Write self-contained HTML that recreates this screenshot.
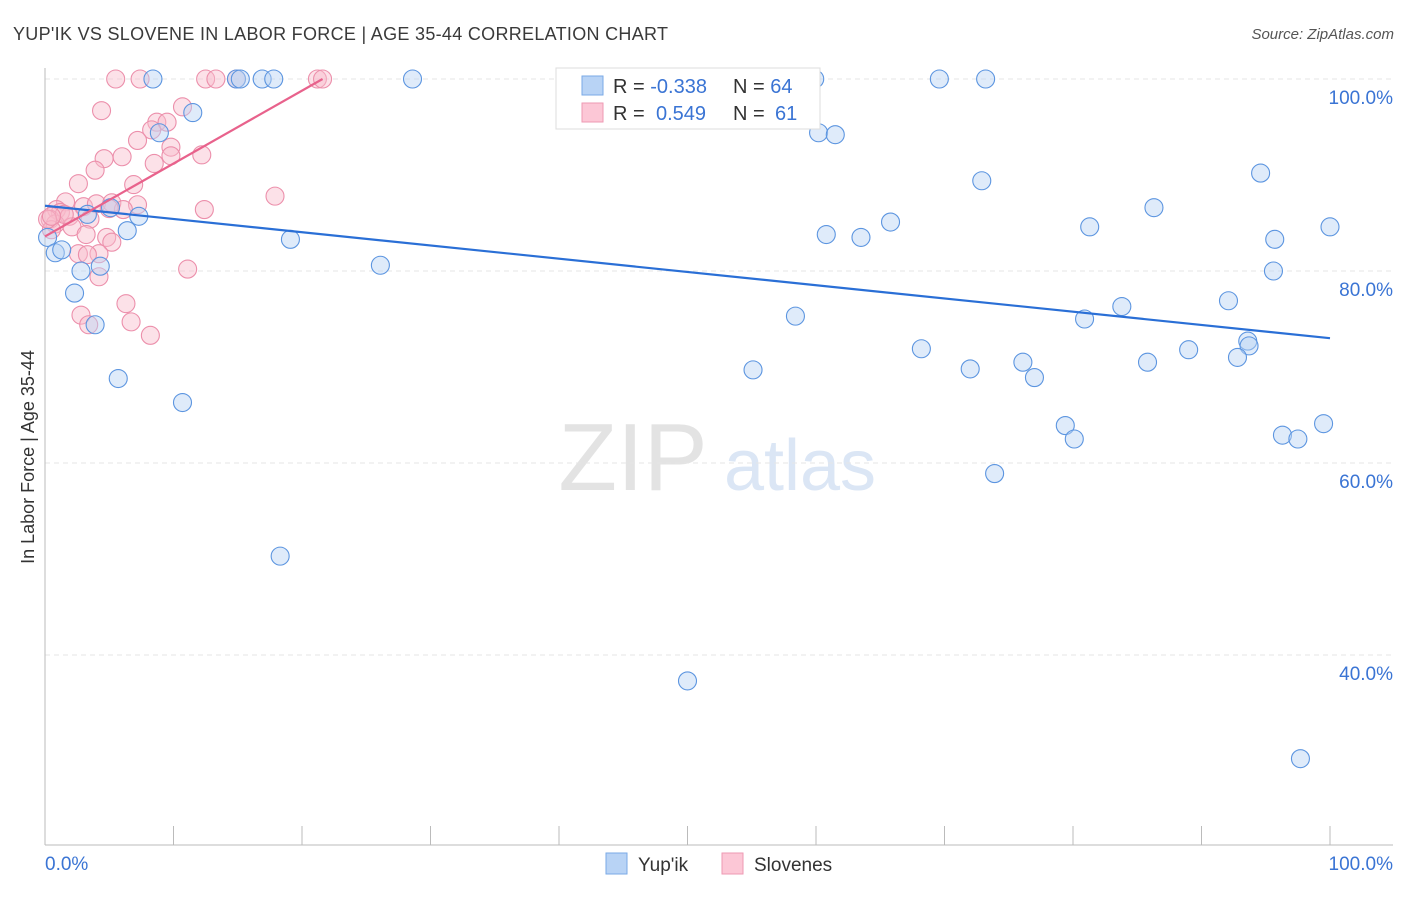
<!DOCTYPE html>
<html><head><meta charset="utf-8">
<style>
body{margin:0;background:#fff;font-family:"Liberation Sans",sans-serif;}
svg text{font-family:"Liberation Sans",sans-serif;}
</style></head>
<body>
<svg id="chart" width="1406" height="892" viewBox="0 0 1406 892" xmlns="http://www.w3.org/2000/svg">
<text x="13" y="40" font-size="18" fill="#3a3a3a" textLength="655">YUP'IK VS SLOVENE IN LABOR FORCE | AGE 35-44 CORRELATION CHART</text>
<text x="1394" y="39" font-size="15" fill="#555" text-anchor="end" font-style="italic">Source: ZipAtlas.com</text>
<g>
<text x="633" y="490" font-size="96" fill="#e3e3e3" text-anchor="middle" font-family="Liberation Serif">ZIP</text>
<text x="800" y="490" font-size="72" fill="#dbe6f5" text-anchor="middle">atlas</text>
</g>
<g id="grid"></g>
<g id="axes"></g>
<g id="pts"></g>
<g id="lines"></g>
<text transform="translate(34,457) rotate(-90)" font-size="18" fill="#333" text-anchor="middle">In Labor Force | Age 35-44</text>
<g>
<rect x="556" y="68" width="264" height="61" fill="#fff" stroke="#ddd"/>
<rect x="582" y="76" width="21" height="19" fill="#b8d3f5" stroke="#7aaae6"/>
<rect x="582" y="103" width="21" height="19" fill="#fcc7d6" stroke="#ee9ab3"/>
<text x="613" y="93" font-size="20" fill="#333">R = <tspan fill="#3a74d4">-0.338</tspan></text>
<text x="733" y="93" font-size="20" fill="#333">N = <tspan fill="#3a74d4">64</tspan></text>
<text x="613" y="120" font-size="20" fill="#333">R = <tspan fill="#3a74d4" x="656">0.549</tspan></text>
<text x="733" y="120" font-size="20" fill="#333">N = <tspan fill="#3a74d4" x="775">61</tspan></text>
</g>
<g>
<rect x="606" y="853" width="21" height="21" fill="#b8d3f5" stroke="#7aaae6"/>
<text x="638" y="871" font-size="19" fill="#333">Yup'ik</text>
<rect x="722" y="853" width="21" height="21" fill="#fcc7d6" stroke="#ee9ab3"/>
<text x="754" y="871" font-size="19" fill="#333">Slovenes</text>
</g>
</svg>
<script>
const yupikX=[8.4,14.9,15.2,16.9,17.8,28.6,41.6,59.9,69.6,73.2,11.5,8.9,60.2,61.5,72.9,94.6,86.3,100,81.3,65.8,60.8,63.5,95.7,5.1,7.3,3.3,0.2,0.8,1.3,6.4,19.1,4.3,2.8,26.1,2.3,3.9,95.6,92.1,83.8,58.4,80.9,5.7,10.7,68.2,89.0,93.6,93.7,92.8,85.8,76.1,77.0,72.0,55.1,79.4,80.1,96.3,97.5,99.5,73.9,18.3,50.0,97.7];
const yupikY=[100,100,100,100,100,100,100,100,100,100,96.5,94.4,94.4,94.2,89.4,90.2,86.6,84.6,84.6,85.1,83.8,83.5,83.3,86.6,85.7,85.9,83.5,81.9,82.2,84.2,83.3,80.5,80.0,80.6,77.7,74.4,80.0,76.9,76.3,75.3,75.0,68.8,66.3,71.9,71.8,72.7,72.2,71.0,70.5,70.5,68.9,69.8,69.7,63.9,62.5,62.9,62.5,64.1,58.9,50.3,37.3,29.2];
const sloX=[5.5,7.4,12.5,13.3,14.9,21.2,21.6,4.4,10.7,8.7,9.5,8.3,7.2,9.8,9.8,12.2,6.0,4.6,3.9,8.5,2.6,6.9,17.9,12.4,1.6,3.0,4.0,5.2,7.2,6.1,5.0,0.9,1.2,1.9,0.4,0.8,3.5,2.1,3.2,0.5,4.8,5.2,2.6,4.2,3.3,11.1,4.2,6.3,2.8,6.7,3.4,8.2,1.5,0.2,0.5];
const sloY=[100,100,100,100,100,100,100,96.7,97.1,95.5,95.5,94.7,93.6,92.9,92.0,92.1,91.9,91.7,90.5,91.2,89.1,89.0,87.8,86.4,87.2,86.7,87.0,87.1,86.9,86.4,86.5,86.4,86.1,85.7,85.4,84.9,85.4,84.6,83.8,84.3,83.5,83.0,81.8,81.8,81.7,80.2,79.4,76.6,75.4,74.7,74.4,73.3,85.9,85.4,85.7];
const xTicks=[0,10,20,30,40,50,60,70,80,90,100];
const yTicks=[100,80,60,40];
const yLabels=["100.0%","80.0%","60.0%","40.0%"];
const xLabels=["0.0%","100.0%"];
const blueLine=[[0,86.8],[100,73.0]];
const pinkLine=[[0,83.6],[21.6,100]];
const X=v=>45+v*12.85, Y=v=>79+(100-v)*9.6;
const NS="http://www.w3.org/2000/svg";
function mk(t,a,p){const e=document.createElementNS(NS,t);for(const k in a)e.setAttribute(k,a[k]);p.appendChild(e);return e;}
const grid=document.getElementById('grid'),axes=document.getElementById('axes'),pts=document.getElementById('pts'),lines=document.getElementById('lines');
yTicks.forEach((v,i)=>{
 const g=mk('line',{x1:45,x2:1393,y1:Y(v),y2:Y(v),stroke:'#e6e6e6','stroke-dasharray':'5,4'},grid);
 
 
 const t=mk('text',{x:1393,y:Y(v)+25,'font-size':19,fill:'#3a74d4','text-anchor':'end'},axes);
 t.textContent=yLabels[i];
 
 
});
const ax=mk('line',{x1:45,x2:45,y1:68,y2:845,stroke:'#bbb'},axes);


const bx=mk('line',{x1:45,x2:1393,y1:845,y2:845,stroke:'#bbb'},axes);


xTicks.forEach(v=>{
 const t=mk('line',{x1:X(v),x2:X(v),y1:826,y2:845,stroke:'#bbb'},axes);
 
 
});
[[0,'start',45],[100,'end',1393]].forEach((d,i)=>{
 const t=mk('text',{x:d[2],y:870,'font-size':19,fill:'#3a74d4','text-anchor':d[1]},axes);
 t.textContent=xLabels[i];
 
 
});
function dots(xs,ys,fill,stroke,name){
 xs.forEach((v,i)=>{
  const c=mk('circle',{cx:X(v),cy:Y(ys[i]),r:9,fill:fill,'fill-opacity':0.45,stroke:stroke,'stroke-width':1.1},pts);
  
  
 });
}
dots(sloX,sloY,'#f9bccd','#ec8fab','slovene-point');
dots(yupikX,yupikY,'#b8d3f5','#5c95e0','yupik-point');
const bl=mk('line',{x1:X(blueLine[0][0]),y1:Y(blueLine[0][1]),x2:X(blueLine[1][0]),y2:Y(blueLine[1][1]),stroke:'#2a6fd6','stroke-width':2.2},lines);


const pl=mk('line',{x1:X(pinkLine[0][0]),y1:Y(pinkLine[0][1]),x2:X(pinkLine[1][0]),y2:Y(pinkLine[1][1]),stroke:'#e8628c','stroke-width':2.2},lines);


</script>
</body></html>
